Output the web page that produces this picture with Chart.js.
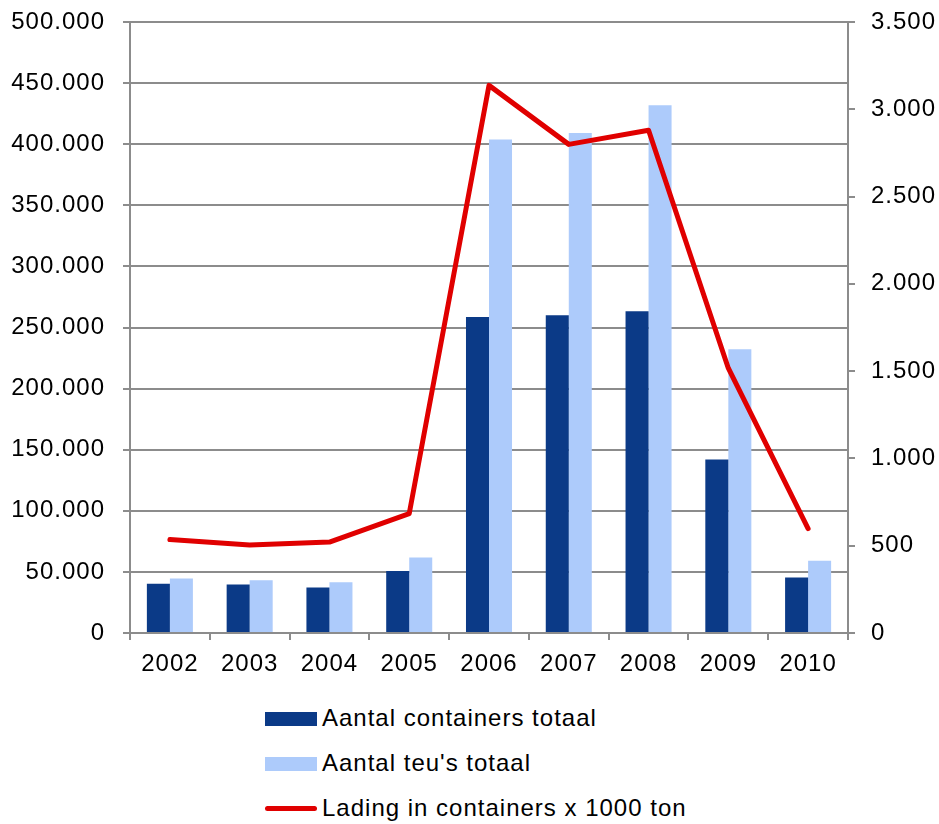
<!DOCTYPE html>
<html>
<head>
<meta charset="utf-8">
<script src="https://cdn.jsdelivr.net/npm/chart.js@4.4.1/dist/chart.umd.min.js"></script>
<style>
  body { margin: 0; background: #fff; font-family: "Liberation Sans", Arial, sans-serif; }
  #wrap { position: relative; width: 939px; height: 824px; }
  #legend { position: absolute; left: 265px; top: 700px; }
  .item { position: relative; height: 45px; font-size: 24px; letter-spacing: 1px; color: #000; }
  .item span.txt { position: absolute; left: 57px; top: 4px; white-space: nowrap; }
  .item span.sw { position: absolute; left: 0; }
</style>
</head>
<body>
<div id="wrap">
  <canvas id="chart" width="939" height="690"></canvas>
  <div id="legend"></div>
</div>
<script>
// data
var years = ['2002', '2003', '2004', '2005', '2006', '2007', '2008', '2009', '2010'];
var containers = [40400, 39600, 37200, 50700, 258600, 260000, 263300, 142000, 45400];
var teus = [44500, 43100, 41500, 61700, 403800, 409200, 431800, 232200, 59200];
var lading = [535, 504, 521, 684, 3137, 2799, 2880, 1517, 598];

var labelNames = ['Aantal containers totaal', "Aantal teu's totaal", 'Lading in containers x 1000 ton'];
var darkBlue = '#0b3a87';
var lightBlue = '#adcbfb';
var red = '#e00000';
var gridGray = '#8c8c8c';

var dots = function(v) {
	return String(v).replace(/\B(?=(\d{3})+(?!\d))/g, '.');
};

Chart.defaults.font.family = '"Liberation Sans", Arial, sans-serif';
Chart.defaults.font.size = 24;
Chart.defaults.color = '#000';

// the original text is a bit wider than Liberation Sans, so space it out slightly
var spacing = {
	id: 'spacing',
	beforeDraw: function(c) { c.ctx.letterSpacing = '1px'; }
};

//fixed axis sizes so the plot area sits where it does in the original
var fixSize = function(w, h) {
	return function(s) {
		if (w) s.width = w;
		if (h) s.height = h;
		s.paddingTop = 0;
		s.paddingBottom = 0;
		s.paddingLeft = 0;
		s.paddingRight = 0;
	};
};

var chart = new Chart(document.getElementById('chart'), {
    type: 'bar',
    plugins: [spacing],
    data: {
        labels: years,
        datasets: [
            {
                type: 'line',
                label: labelNames[2],
                data: lading,
                yAxisID: 'y1',
                borderColor: red,
                backgroundColor: red,
                borderWidth: 5,
                borderCapStyle: 'round',
                borderJoinStyle: 'round',
                pointRadius: 0,
                tension: 0,
                order: 0
            },
            {
                label: labelNames[0],
                data: containers,
                backgroundColor: darkBlue,
                yAxisID: 'y',
                barPercentage: 1,
                categoryPercentage: 0.577,
                order: 1
            },
            {
                label: labelNames[1],
                data: teus,
                backgroundColor: lightBlue,
                yAxisID: 'y',
                barPercentage: 1,
                categoryPercentage: 0.577,
                order: 2
            }
        ]
    },
    options: {
        responsive: false,
        animation: false,
        layout: { padding: { top: 22, left: 0, right: 0, bottom: 0 } },
        plugins: {
            legend: { display: false },
            tooltip: { enabled: false }
        },
        scales: {
            x: {
                grid: { display: true, drawOnChartArea: false, color: gridGray, lineWidth: 2, tickLength: 7 },
                border: { color: gridGray, width: 2 },
                ticks: { padding: 10, maxRotation: 0 },
                afterFit: fixSize(0, 57)
            },
            y: {
                position: 'left',
                min: 0,
                max: 500000,
                grid: { color: gridGray, lineWidth: 2, tickLength: 7 },
                border: { color: gridGray, width: 2 },
                ticks: { stepSize: 50000, padding: 18, callback: function(v) { return dots(v); } },
                afterFit: fixSize(130, 0)
            },
            y1: {
                position: 'right',
                min: 0,
                max: 3500,
                grid: { drawOnChartArea: false, color: gridGray, lineWidth: 2, tickLength: 7 },
                border: { color: gridGray, width: 2 },
                ticks: { stepSize: 500, padding: 16, callback: function(v) { return dots(v); } },
                afterFit: fixSize(91, 0)
            }
        }
    }
});

// legend stacked vertically, built from the datasets
var legend = document.getElementById('legend');
[1, 2, 0].forEach(function(i) {
	var ds = chart.data.datasets[i];
	var item = document.createElement('div');
	item.className = 'item';
	var sw = document.createElement('span');
	sw.className = 'sw';
	if (ds.type === 'line') {
		sw.style.cssText = 'top:16px;width:52px;height:5px;border-radius:3px;background:' + ds.borderColor;
	} else {
		sw.style.cssText = 'top:12px;width:52px;height:14px;background:' + ds.backgroundColor;
	}
	var txt = document.createElement('span');
	txt.className = 'txt';
	txt.textContent = ds.label;
	item.appendChild(sw);
	item.appendChild(txt);
	legend.appendChild(item);
});
</script>
</body>
</html>
